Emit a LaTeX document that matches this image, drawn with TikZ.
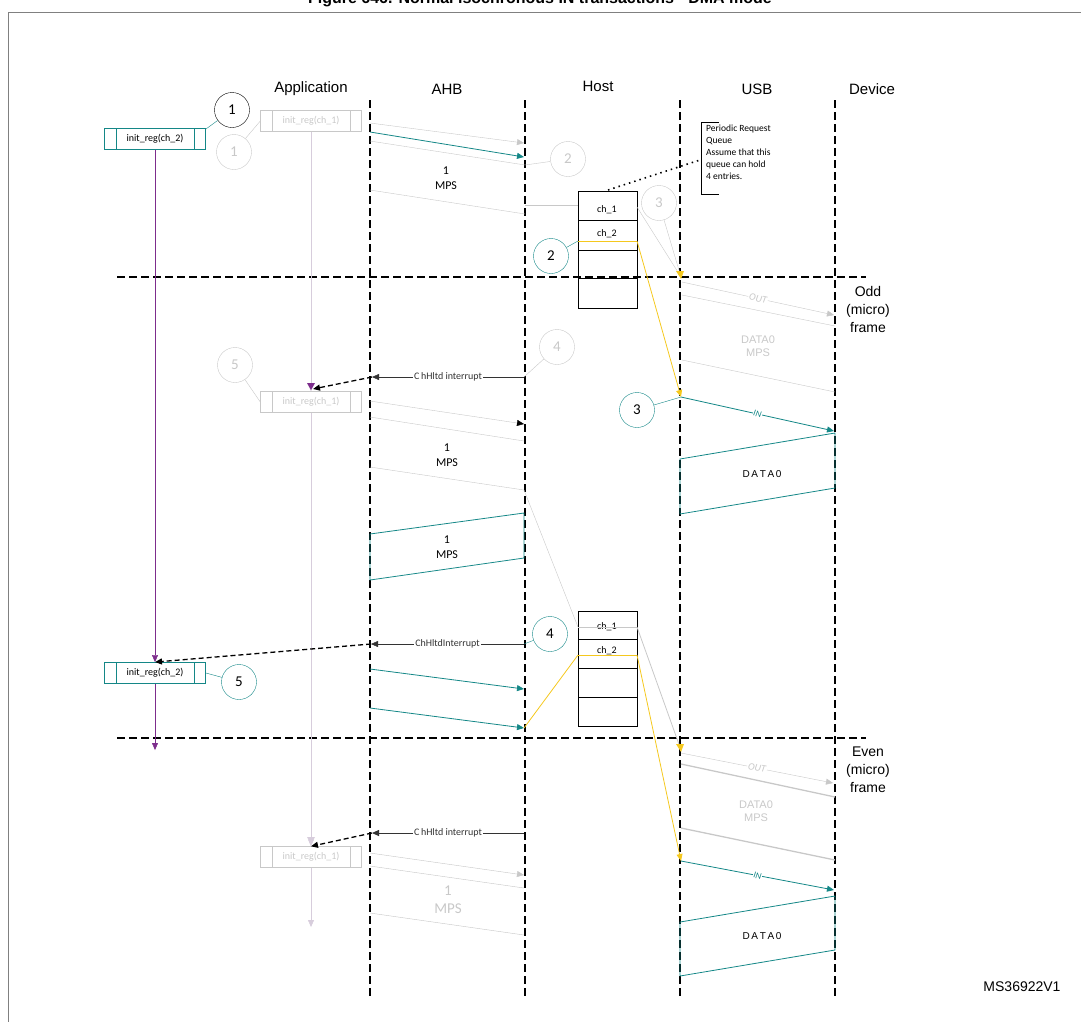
\documentclass[tikz,border=0pt]{standalone}
\usepackage{fontspec}
\setmainfont{Liberation Sans}
\newfontfamily\calfont{Carlito}
\usetikzlibrary{arrows.meta}
\definecolor{teal1}{RGB}{20,135,135}
\definecolor{lg}{RGB}{200,200,200}
\definecolor{yel}{RGB}{245,200,30}
\definecolor{purp}{RGB}{125,45,140}
\definecolor{lav}{RGB}{215,205,220}
\tikzset{
 lane/.style={black,line width=1.4pt,dash pattern=on 8pt off 4pt},
 cnum/.style={circle,draw,minimum size=35pt,inner sep=0pt,font=\calfont\fontsize{15}{15}\selectfont},
 tip/.style={-{Triangle[length=7pt,width=6pt]}},
 small/.style={font=\calfont\fontsize{10}{11}\selectfont},
 hdr/.style={font=\fontsize{15}{15}\selectfont},
 regbox/.style={draw,minimum width=101pt,minimum height=21pt,inner sep=0pt,font=\calfont\fontsize{10}{10}\selectfont},
 dsh/.style={line width=1.3pt,dash pattern=on 5pt off 3pt,-{Triangle[length=7pt,width=6pt]}},
}
\begin{document}
\begin{tikzpicture}[x=1pt,y=-1pt]
\useasboundingbox (0,0) rectangle (1081,1021);
\draw[gray,line width=1pt] (8,12) rectangle (1090,1030);
\node[font=\bfseries\fontsize{16}{16}\selectfont] (title) at (540,-1) {Figure 646. Normal isochronous IN transactions - DMA mode};
% headers
\node[hdr] (happ) at (311,89) {Application};
\node[hdr] (hahb) at (447,89) {AHB};
\node[hdr] (hhost) at (598,86) {Host};
\node[hdr] (husb) at (757,89) {USB};
\node[hdr] (hdev) at (872,89) {Device};
% lanes
\foreach \x/\n in {370/a,525/b,680/c,835/d}{
 \coordinate (\n top) at (\x,100); \coordinate (\n bot) at (\x,997);
 \draw[lane] (\n top) -- (\n bot);}
\coordinate (f1l) at (117,277); \coordinate (f1r) at (866,277);
\coordinate (f2l) at (117,738); \coordinate (f2r) at (866,738);
\draw[lane] (f1l) -- (f1r);
\draw[lane] (f2l) -- (f2r);
\node[hdr,align=center,font=\fontsize{14}{18}\selectfont] (odd) at (868,309) {Odd\\(micro)\\frame};
\node[hdr,align=center,font=\fontsize{14}{18}\selectfont] (even) at (868,770) {Even\\(micro)\\frame};
\node[font=\fontsize{14}{14}\selectfont] (ms) at (1022,987) {MS36922V1};

% ---- application lifelines
\node[regbox,draw=teal1,line width=0.9pt] (r2a) at (155,139) {init\_reg(ch\_2)};
\draw[teal1] (r2a.north west)++(12,0) -- ++(0,21.5) (r2a.north east)++(-12,0) -- ++(0,21.5);
\node[regbox,draw=lg,text=lg] (r1a) at (311,121) {init\_reg(ch\_1)};
\draw[lg] (r1a.north west)++(12,0) -- ++(0,21.5) (r1a.north east)++(-12,0) -- ++(0,21.5);
\node[regbox,draw=lg,text=lg] (r1b) at (311,402) {init\_reg(ch\_1)};
\draw[lg] (r1b.north west)++(12,0) -- ++(0,21.5) (r1b.north east)++(-12,0) -- ++(0,21.5);
\node[regbox,draw=teal1,line width=0.9pt] (r2b) at (155,673) {init\_reg(ch\_2)};
\draw[teal1] (r2b.north west)++(12,0) -- ++(0,21.5) (r2b.north east)++(-12,0) -- ++(0,21.5);
\node[regbox,draw=lg,text=lg] (r1c) at (311,857) {init\_reg(ch\_1)};
\draw[lg] (r1c.north west)++(12,0) -- ++(0,21.5) (r1c.north east)++(-12,0) -- ++(0,21.5);

\coordinate (pend) at (155,750);
\draw[purp,tip] (r2a.south) -- (r2b.north);
\draw[purp,tip] (r2b.south) -- (pend);
\draw[lav,tip] (r1a.south) -- (r1b.north);
\draw[lav,tip] (r1b.south) -- (r1c.north);
\coordinate (gend) at (311,927);
\draw[lav,tip] (r1c.south) -- (gend);
\fill[purp] (307,383) -- (315,383) -- (311,390) -- cycle;

% circles
\node[cnum] (c1) at (232,110) {1};
\draw[teal1] (c1) -- (r2a.east|-0,129);
\node[cnum,draw=lg,text=lg] (c1g) at (234,152) {1};
\draw[lg] (c1g) -- (r1a.west);
\node[cnum,draw=lg,text=lg] (c2g) at (568,159) {2};
\node[cnum,draw=teal1] (c2) at (551,256) {2};
\node[cnum,draw=lg,text=lg] (c3g) at (659,203) {3};
\node[cnum,draw=teal1] (c3) at (637,410) {3};
\node[cnum,draw=lg,text=lg] (c4g) at (557,347) {4};
\node[cnum,draw=teal1] (c4) at (550,634) {4};
\node[cnum,draw=lg,text=lg] (c5g) at (235,365) {5};
\draw[lg] (c5g) -- (r1b.west);
\node[cnum,draw=teal1] (c5) at (239,682) {5};
\draw[teal1] (c5) -- (r2b.east);

% ---- top AHB messages
\coordinate (m1a) at (370,123); \coordinate (m1b) at (524,143);
\draw[lg,tip] (m1a) -- (m1b);
\coordinate (m2a) at (370,132); \coordinate (m2b) at (524,157);
\draw[teal1,thick,tip] (m2a) -- (m2b);
\coordinate (m3a) at (370,141); \coordinate (m3b) at (525,165);
\draw[lg] (m3a) -- (m3b) -- (c2g);
\node[small,font=\calfont\fontsize{12}{15}\selectfont,align=center] (mps1) at (446,178) {1\\MPS};
\coordinate (m4a) at (370,190); \coordinate (m4b) at (525,214);
\draw[lg] (m4a) -- (m4b);
\coordinate (m4c) at (525,205);

% queue 1
\draw[thick] (578,191) rectangle (637,308);
\foreach \y in {220,250,278} \draw[thick] (578,\y) -- (637,\y);
\node[small] (q1c1) at (607,210) {ch\_1};
\node[small] (q1c2) at (607,234) {ch\_2};
\coordinate (q1r1) at (637,207); \coordinate (q1l1) at (578,205);
\draw[lg] (m4c) -- (q1l1);
\coordinate (q1l2) at (578,241); \coordinate (q1r2) at (637,241);
\draw[yel,thick] (q1l2) -- (q1r2);
\draw[teal1] (c2) -- (q1l2);
\coordinate (u1) at (681,277);
\draw[lg] (q1r1) -- (u1);
\draw[lg] (c3g) -- (u1);
\fill[yel] (676,271) -- (684,271) -- (681,279) -- cycle;
\coordinate (u3) at (681,397);
\draw[yel,thick,tip] (q1r2) -- (u3);
\draw[teal1] (c3) -- (u3);
% annotation
\coordinate (d1) at (608,190); \coordinate (d2) at (700,160);
\draw[line width=1.6pt,dash pattern=on 1.5pt off 4pt] (d1) -- (d2);
\draw[thick] (719,122) -- (701,122) -- (701,194) -- (719,194);
\node[small,font=\calfont\fontsize{9.5}{12}\selectfont,align=left,anchor=north west,inner sep=0pt] (pq) at (706,125) {Periodic Request\\Queue\\Assume that this\\queue can hold\\4 entries.};

% USB odd frame
\coordinate (o1a) at (682,282); \coordinate (o1b) at (834,315);
\draw[lg,tip] (o1a) -- node[sloped,fill=white,inner sep=1pt,text=lg,font=\calfont\itshape\fontsize{10}{10}\selectfont]{OUT} (o1b);
\coordinate (o2a) at (682,295); \coordinate (o2b) at (835,326);
\draw[lg] (o2a) -- (o2b);
\node[small,font=\fontsize{11}{13}\selectfont,text=lg,align=center] (dm1) at (758,346) {DATA0\\MPS};
\coordinate (o3a) at (682,360); \coordinate (o3b) at (835,392);
\draw[lg] (o3a) -- (o3b);
\coordinate (i1b) at (834,431);
\draw[teal1,thick,tip] (u3) -- node[sloped,fill=white,inner sep=0.5pt,font=\calfont\itshape\fontsize{9}{9}\selectfont]{IN} (i1b);
\draw[teal1,thick] (680,459) -- (835,433) -- (835,488) -- (680,514) -- cycle;
\node[font=\fontsize{10}{10}\selectfont] (dt1) at (762,474) {D\,A\,T\,A\,0};

% middle AHB
\coordinate (h1a) at (524,377); \coordinate (h1b) at (372,377);
\draw[black!80,tip] (h1a) -- node[fill=white,inner sep=1pt,font=\calfont\fontsize{10}{10}\selectfont]{C\,hHltd interrupt} (h1b);
\draw[lg] (c4g) -- (h1a);
\coordinate (h1t) at (313,389);
\draw[dsh] (h1b) -- (h1t);
\coordinate (g1a) at (370,401); \coordinate (g1b) at (524,424);
\draw[lg,-{Triangle[length=7pt,width=6pt,black]}] (g1a) -- (g1b);
\draw[lg] (370,417) -- (524,441);
\node[small,font=\calfont\fontsize{12}{15}\selectfont,align=center] (mps2) at (447,455) {1\\MPS};
\coordinate (g3a) at (370,467); \coordinate (g3b) at (524,490);
\coordinate (q2l1) at (578,627);
\draw[lg] (g3a) -- (g3b) -- (q2l1);
\draw[teal1,thick] (370,534) -- (524,513) -- (524,558) -- (370,580) -- cycle;
\node[small,font=\calfont\fontsize{12}{15}\selectfont,align=center] (mps3) at (447,547) {1\\MPS};

% queue 2
\draw[thick] (578,611) rectangle (637,726);
\foreach \y in {639,668,697} \draw[thick] (578,\y) -- (637,\y);
\node[small] (q2c1) at (607,627) {ch\_1};
\node[small] (q2c2) at (607,651) {ch\_2};
\coordinate (q2r1) at (637,627);
\draw[lg] (q2l1) -- (q2r1);
\coordinate (q2l2) at (578,655); \coordinate (q2r2) at (637,655);
\draw[yel,thick] (q2l2) -- (q2r2);

\coordinate (h2a) at (524,644); \coordinate (h2b) at (371,644);
\draw[black!80,tip] (h2a) -- node[fill=white,inner sep=1pt,font=\calfont\fontsize{10}{10}\selectfont]{ChHltdInterrupt} (h2b);
\draw[teal1] (c4) -- (h2a);
\draw[dsh] (h2b) -- (r2b.north);
\coordinate (t1a) at (370,669); \coordinate (t1b) at (524,689);
\draw[teal1,thick,tip] (t1a) -- (t1b);
\coordinate (t2a) at (370,708); \coordinate (t2b) at (524,728);
\draw[teal1,thick,tip] (t2a) -- (t2b);
\draw[yel,thick] (t2b) -- (q2l2);
\coordinate (u4) at (681,750);
\draw[lg,thick] (q2r1) -- (u4);
\fill[yel] (676,744) -- (684,744) -- (681,752) -- cycle;
\coordinate (u5) at (681,861);
\draw[yel,thick,tip] (q2r2) -- (u5);

% USB even frame
\coordinate (e1a) at (681,753); \coordinate (e1b) at (833,783);
\draw[lg,tip] (e1a) -- node[sloped,fill=white,inner sep=1pt,text=lg,font=\calfont\itshape\fontsize{10}{10}\selectfont]{OUT} (e1b);
\draw[lg,line width=1.3pt] (681,764) -- (835,797);
\node[small,font=\fontsize{11}{13}\selectfont,text=lg,align=center] (dm2) at (756,811) {DATA0\\MPS};
\draw[lg,line width=1.3pt] (681,828) -- (835,860);
\coordinate (i2b) at (834,890);
\draw[teal1,thick,tip] (u5) -- node[sloped,fill=white,inner sep=0.5pt,font=\calfont\itshape\fontsize{9}{9}\selectfont]{IN} (i2b);
\draw[teal1,thick] (680,922) -- (835,896) -- (835,950) -- (680,976) -- cycle;
\node[font=\fontsize{10}{10}\selectfont] (dt2) at (762,936) {D\,A\,T\,A\,0};

% bottom AHB
\coordinate (h3a) at (524,833); \coordinate (h3b) at (372,833);
\draw[black!80,thick,tip] (h3a) -- node[fill=white,inner sep=1pt,font=\calfont\fontsize{10}{10}\selectfont]{C\,hHltd interrupt} (h3b);
\fill[lav] (307,837) -- (315,837) -- (311,844) -- cycle;
\draw[dsh] (h3b) -- (r1c.north);
\coordinate (g4a) at (370,853); \coordinate (g4b) at (524,875);
\draw[lg,tip] (g4a) -- (g4b);
\draw[lg] (370,866) -- (524,888);
\node[text=lg,align=center,font=\calfont\fontsize{15}{18}\selectfont] (mps4) at (448,900) {1\\MPS};
\draw[lg] (370,913) -- (524,935);
\end{tikzpicture}
\end{document}
